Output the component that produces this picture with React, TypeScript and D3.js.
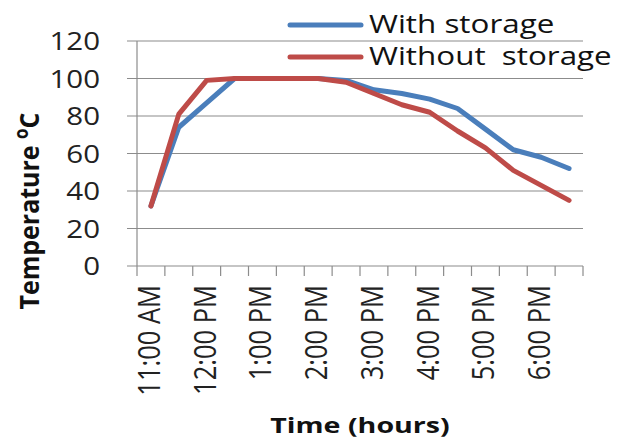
import React from "react";
import * as d3 from "d3";

// Half-hourly readings, 11:00 AM to 6:30 PM
const times = [
  "11:00 AM", "11:30 AM", "12:00 PM", "12:30 PM", "1:00 PM", "1:30 PM",
  "2:00 PM", "2:30 PM", "3:00 PM", "3:30 PM", "4:00 PM", "4:30 PM",
  "5:00 PM", "5:30 PM", "6:00 PM", "6:30 PM",
];
const withStorage = [32, 74, 87, 100, 100, 100, 100, 99, 94, 92, 89, 84, 73, 62, 58, 52];
const withoutStorage = [32, 81, 99, 100, 100, 100, 100, 98, 92, 86, 82, 72, 63, 51, 43, 35];
const yTicks = [0, 20, 40, 60, 80, 100, 120];
const seriesNames = ["With storage", "Without  storage"];
const seriesColors = ["#4A7EBB", "#BE4B48"];

const W = 623;
const H = 443;
const margin = { left: 137, right: 40, top: 41, bottom: 177 };
const FONT = "'Open Sans', 'Noto Sans', sans-serif";
const SX = 1.18; // horizontal glyph stretch

export default function App() {
  const x = d3
    .scaleBand<string>()
    .domain(times)
    .range([margin.left, W - margin.right])
    .padding(0);
  const y = d3.scaleLinear().domain([0, 120]).range([H - margin.bottom, margin.top]);

  const line = d3
    .line<number>()
    .x((_, i) => (x(times[i]) as number) + x.bandwidth() / 2)
    .y((d) => y(d));

  const series = [withStorage, withoutStorage];
  const x0 = margin.left;
  const x1 = W - margin.right;
  const yBase = y(0);
  const boundaries = times.map((t) => x(t) as number).concat([x1]);

  return (
    <svg
      width={W}
      height={H}
      style={{ position: "absolute", left: 0, top: 0, background: "#fff" }}
      fontFamily={FONT}
    >
      {/* horizontal gridlines with left tick stubs */}
      {yTicks.map((t) => (
        <line key={"g" + t} x1={x0 - 10} x2={x1} y1={y(t)} y2={y(t)} stroke="#8c8c8c" strokeWidth={1.2} />
      ))}
      {/* y axis */}
      <line x1={x0} x2={x0} y1={y(120)} y2={yBase} stroke="#8c8c8c" strokeWidth={1.2} />
      {/* category boundary ticks */}
      {boundaries.map((bx, i) => (
        <line key={"t" + i} x1={bx} x2={bx} y1={yBase} y2={yBase + 10} stroke="#8c8c8c" strokeWidth={1.2} />
      ))}
      {/* y tick labels */}
      {yTicks.map((t) => (
        <text
          key={"yl" + t}
          transform={`translate(100,${y(t)}) scale(${SX},1)`}
          textAnchor="end"
          dy="0.36em"
          fontSize={25}
          fill="#222"
        >
          {t}
        </text>
      ))}
      {/* x tick labels on the hour */}
      {times.map((t) =>
        t.includes(":00") ? (
          <text
            key={"xl" + t}
            transform={`translate(${(x(t) as number) + x.bandwidth() / 2 + 9},285) scale(${SX},1) rotate(-90)`}
            textAnchor="end"
            fontSize={25.5}
            fill="#222"
          >
            {t}
          </text>
        ) : null
      )}
      {/* series lines */}
      {series.map((s, i) => (
        <path
          key={"s" + i}
          d={line(s) as string}
          fill="none"
          stroke={seriesColors[i]}
          strokeWidth={5}
          strokeLinejoin="round"
          strokeLinecap="round"
        />
      ))}
      {/* legend */}
      {seriesNames.map((n, i) => (
        <g key={"lg" + i}>
          <line
            x1={290}
            x2={361}
            y1={25 + i * 32}
            y2={25 + i * 32}
            stroke={seriesColors[i]}
            strokeWidth={5}
            strokeLinecap="round"
          />
          <text
            transform={`translate(369,${33 + i * 32}) scale(1.23,1)`}
            fontSize={25.5}
            fill="#111"
            style={{ whiteSpace: "pre" }}
          >
            {n}
          </text>
        </g>
      ))}
      {/* axis titles */}
      <text
        transform={`translate(${(x0 + x1) / 2},433) scale(1.3,1)`}
        textAnchor="middle"
        fontSize={22}
        fontWeight="bold"
        fill="#111"
      >
        Time (hours)
      </text>
      <text
        transform={`translate(39,211) scale(1.1,1) rotate(-90)`}
        textAnchor="middle"
        fontSize={25}
        fontWeight="bold"
        fill="#111"
      >
        Temperature{" "}
        <tspan fontSize={17} dy={-10}>o</tspan>
        <tspan dy={10}>C</tspan>
      </text>
    </svg>
  );
}
